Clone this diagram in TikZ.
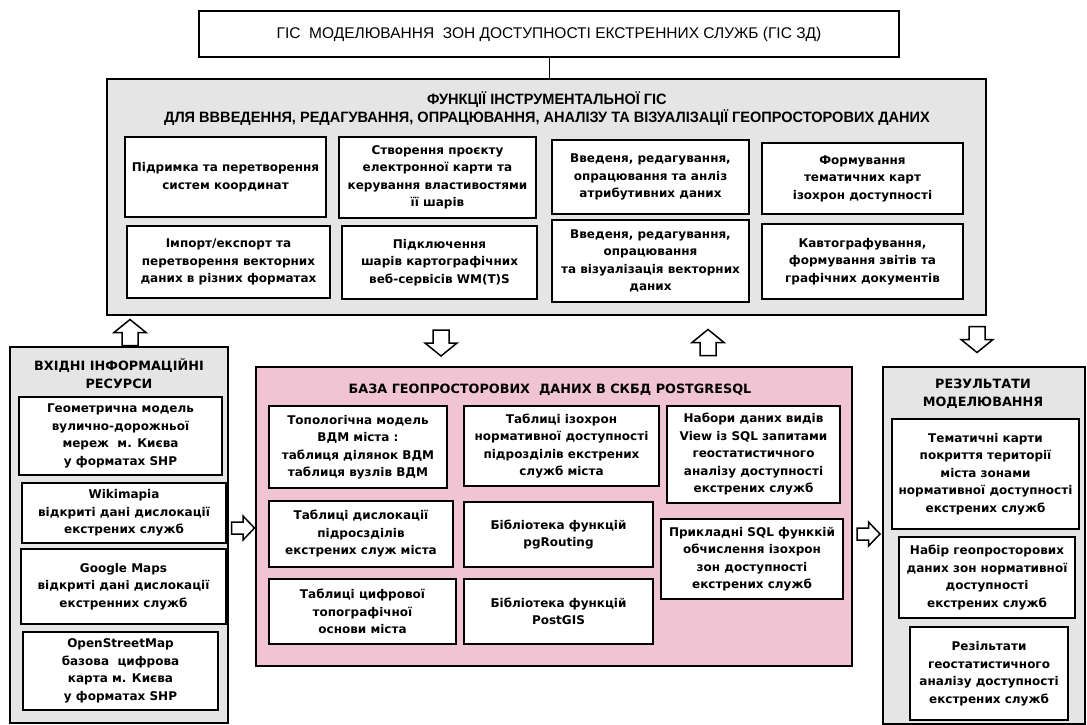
\documentclass[tikz,border=0pt]{standalone}
\usepackage{fontspec}
\setmainfont{DejaVu Sans}
\newfontfamily\dv{DejaVu Sans}
\newfontfamily\ttlfont{Liberation Sans}
\newfontfamily\hdrfont[FakeStretch=0.97]{Liberation Sans}
\definecolor{greyfill}{RGB}{229,229,229}
\definecolor{pinkfill}{RGB}{241,196,212}
\tikzset{
  outerbox/.style={draw, line width=1.6pt, inner sep=0pt},
  ibox/.style={draw, fill=white, line width=1.6pt, inner sep=0pt, align=center,
    font=\dv\bfseries\fontsize{12}{17.5}\selectfont},
  hdr/.style={align=center, inner sep=0pt, font=\dv\bfseries\fontsize{12.8}{17.5}\selectfont},
  vblock/.pic={\draw[line width=1.5pt, fill=white, line join=miter]
     (-13,-8) -- (0,-8) -- (0,-16) -- (13,0) -- (0,16) -- (0,8) -- (-13,8) -- cycle;},
  hblock/.pic={\draw[line width=1.5pt, fill=white, line join=miter]
     (-11.5,-6) -- (0,-6) -- (0,-12) -- (11.5,0) -- (0,12) -- (0,6) -- (-11.5,6) -- cycle;}
}
\begin{document}
\begin{tikzpicture}[x=1pt,y=-1pt]
\useasboundingbox[fill=white] (0,0) rectangle (1087,725);

% title
\node[outerbox, fill=white, minimum width=700, minimum height=46,
  font=\ttlfont\fontsize{15.5}{18}\selectfont] (T) at (549,34)
  {ГІС\ \ МОДЕЛЮВАННЯ\ \ ЗОН ДОСТУПНОСТІ ЕКСТРЕННИХ СЛУЖБ (ГІС ЗД)};

% grey functions box
\node[outerbox, fill=greyfill, minimum width=879, minimum height=236] (G) at (546.5,197) {};
\draw[line width=1pt] (T.south) -- (T.south |- G.north);
\node[align=center, inner sep=0pt, font=\hdrfont\bfseries\fontsize{15}{18}\selectfont] (Gh) at (547,109)
  {ФУНКЦІЇ ІНСТРУМЕНТАЛЬНОЇ ГІС\\ДЛЯ ВВВЕДЕННЯ, РЕДАГУВАННЯ, ОПРАЦЮВАННЯ, АНАЛІЗУ ТА ВІЗУАЛІЗАЦІЇ ГЕОПРОСТОРОВИХ ДАНИХ};

\node[ibox, minimum width=201, minimum height=80] (f11) at (225.5,177) {Підримка та перетворення\\систем координат};
\node[ibox, minimum width=197, minimum height=81] (f12) at (437.5,177.5) {Створення проєкту\\електронної карти та\\керування властивостями\\її шарів};
\node[ibox, minimum width=197, minimum height=74] (f13) at (650.5,177) {Введеня, редагування,\\опрацювання та анліз\\атрибутивних даних};
\node[ibox, minimum width=201, minimum height=71] (f14) at (862.5,178.5) {Формування\\тематичних карт\\ізохрон доступності};
\node[ibox, minimum width=203, minimum height=72] (f21) at (228.5,262) {Імпорт/експорт та\\перетворення векторних\\даних в різних форматах};
\node[ibox, minimum width=195, minimum height=73] (f22) at (439.5,262.5) {Підключення\\шарів картографічних\\веб-сервісів WM(T)S};
\node[ibox, minimum width=197, minimum height=82] (f23) at (650.5,261) {Введеня, редагування,\\опрацювання\\та візуалізація векторних\\даних};
\node[ibox, minimum width=201, minimum height=75] (f24) at (862.5,261.5) {Кавтографування,\\формування звітів та\\графічних документів};

% left column
\node[outerbox, fill=greyfill, minimum width=218, minimum height=376] (L) at (119,535) {};
\node[hdr] (Lh) at (119,373.5) {ВХІДНІ ІНФОРМАЦІЙНІ\\РЕСУРСИ};
\node[ibox, minimum width=203, minimum height=78] (l1) at (120.5,436) {Геометрична модель\\вулично-дорожньої\\мереж\ \ м. Києва\\у форматах SHP};
\node[ibox, minimum width=204, minimum height=60] (l2) at (124,513) {Wikimapia\\відкриті дані дислокації\\екстрених служб};
\node[ibox, minimum width=205, minimum height=75] (l3) at (123.5,586.5) {Google Maps\\відкриті дані дислокації\\екстренних служб};
\node[ibox, minimum width=195, minimum height=78] (l4) at (120.5,671) {OpenStreetMap\\базова\ \ цифрова\\карта м. Києва\\у форматах SHP};

% pink database box
\node[outerbox, fill=pinkfill, minimum width=596, minimum height=299] (P) at (554,516.5) {};
\node[hdr] (Ph) at (550,390) {БАЗА ГЕОПРОСТОРОВИХ\ \ ДАНИХ В СКБД POSTGRESQL};
\node[ibox, minimum width=178, minimum height=82] (pA) at (358,447) {Топологічна модель\\ВДМ міста :\\таблиця ділянок ВДМ\\таблиця вузлів ВДМ};
\node[ibox, minimum width=195, minimum height=80] (pB) at (561.5,446) {Таблиці ізохрон\\нормативної доступності\\підрозділів екстрених\\служб міста};
\node[ibox, minimum width=173, minimum height=97] (pG) at (753.5,454.5) {Набори даних видів\\View із SQL запитами\\геостатистичного\\аналізу доступності\\екстрених служб};
\node[ibox, minimum width=184, minimum height=66] (pC) at (361,534) {Таблиці дислокації\\підросзділів\\екстрених служ міста};
\node[ibox, minimum width=189, minimum height=65] (pD) at (558.5,534.5) {Бібліотека функцій\\pgRouting};
\node[ibox, minimum width=182, minimum height=80] (pH) at (752,559) {Прикладні SQL функкій\\обчислення ізохрон\\зон доступності\\екстрених служб};
\node[ibox, minimum width=187, minimum height=65] (pE) at (362.5,611.5) {Таблиці цифрової\\топографічної\\основи міста};
\node[ibox, minimum width=189, minimum height=65] (pF) at (558.5,611.5) {Бібліотека функцій\\PostGIS};

% right column
\node[outerbox, fill=greyfill, minimum width=202, minimum height=357] (R) at (984,545.5) {};
\node[hdr] (Rh) at (983,393.5) {РЕЗУЛЬТАТИ\\МОДЕЛЮВАННЯ};
\node[ibox, minimum width=187, minimum height=110] (r1) at (985.5,474) {Тематичні карти\\покриття території\\міста зонами\\нормативної доступності\\екстрених служб};
\node[ibox, minimum width=176, minimum height=81] (r2) at (987,577.5) {Набір геопросторових\\даних зон нормативної\\доступності\\екстрених служб};
\node[ibox, minimum width=158, minimum height=93] (r3) at (989,673.5) {Резільтати\\геостатистичного\\аналізу доступності\\екстрених служб};

% block arrows
\pic[rotate=90] at (130,332.5) {vblock};
\pic[rotate=-90] at (441,343) {vblock};
\pic[rotate=90] at (708,342.5) {vblock};
\pic[rotate=-90] at (977,339.5) {vblock};
\pic at (243,528) {hblock};
\pic at (868.5,534) {hblock};
\end{tikzpicture}
\end{document}
